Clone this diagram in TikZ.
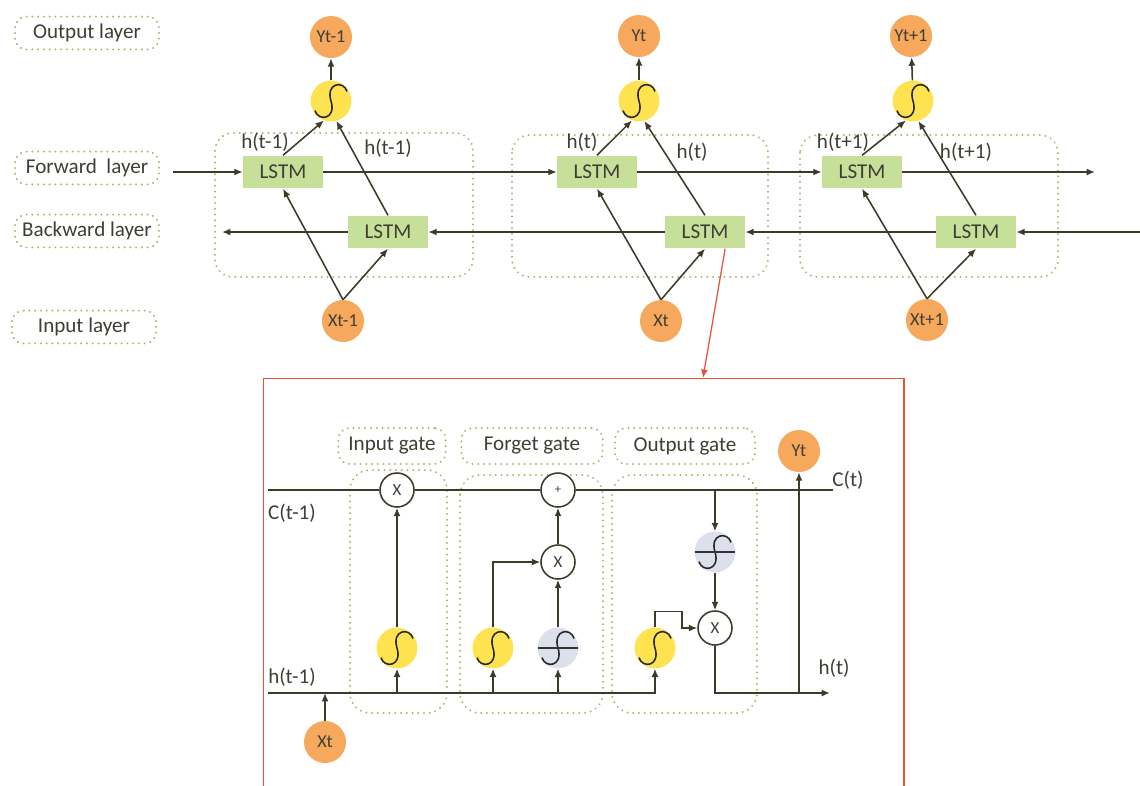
\documentclass[tikz,border=0pt]{standalone}
\usepackage{fontspec}
\setmainfont{Carlito}
\usepackage{tikz}
\usetikzlibrary{
    arrows.meta,
    calc
}

\definecolor{unitorange}{RGB}{246,168,92}
\definecolor{sigyellow}{RGB}{255,226,80}
\definecolor{lstmgreen}{RGB}{198,224,154}
\definecolor{tanhgrey}{RGB}{220,224,236}
\definecolor{dotkhaki}{RGB}{186,176,112}
\definecolor{wirecol}{RGB}{62,58,40}
\definecolor{textcol}{RGB}{64,62,52}
\definecolor{zoomred}{RGB}{230,84,56}

\newcommand{\sigmacurve}{\draw[line width=1.1pt, black!85, shift={(path picture bounding box.center)}]
    (0.4cm,0.24cm) .. controls (0.32cm,0.52cm) and (-0.14cm,0.46cm) .. (0cm,0cm)
    .. controls (0.14cm,-0.46cm) and (-0.32cm,-0.52cm) .. (-0.4cm,-0.24cm);}

\tikzset{
    wire/.style={line width=1.1pt, draw=wirecol},
    conn/.style={wire, -{Latex[length=6pt,width=5pt]}},
    dotbox/.style={draw=dotkhaki, line width=1.5pt, dash pattern=on 0.1pt off 4pt, line cap=round},
    layerlabel/.style={dotbox, rounded corners=8pt, minimum width=3.6cm, minimum height=0.82cm,
        text=textcol, font=\fontsize{15}{17}\selectfont},
    gatelabel/.style={dotbox, rounded corners=8pt, minimum height=0.9cm,
        text=textcol, font=\fontsize{15}{17}\selectfont},
    hlabel/.style={text=textcol, font=\fontsize{15}{17}\selectfont},
    lstm/.style={fill=lstmgreen, minimum width=2cm, minimum height=0.82cm,
        text=textcol, font=\fontsize{15}{17}\selectfont},
    unit/.style={circle, fill=unitorange, minimum size=1.05cm, inner sep=0pt,
        text=textcol, font=\fontsize{13}{15}\selectfont},
    sigmoid/.style={circle, fill=sigyellow, minimum size=1.02cm, inner sep=0pt,
        path picture={\sigmacurve}},
    tanhunit/.style={circle, fill=tanhgrey, minimum size=1.02cm, inner sep=0pt,
        path picture={\sigmacurve
            \draw[line width=1pt, black!80] (path picture bounding box.west) -- (path picture bounding box.east);}},
    op/.style={circle, draw=wirecol, line width=1.1pt, fill=white, minimum size=0.85cm, inner sep=0pt,
        text=textcol, font=\fontsize{12}{13}\selectfont}
}

\begin{document}
\begin{tikzpicture}[x=0.025cm, y=-0.025cm]

\useasboundingbox (0,0) rectangle (1140,785);

% Layer labels
\node[layerlabel] (outlbl) at (87,33) {Output layer};
\node[layerlabel] (fwdlbl) at (87,168) {Forward\ \ layer};
\node[layerlabel] (bwdlbl) at (87,231) {Backward layer};
\node[layerlabel] (inlbl) at (84,327) {Input layer};

% Cell frames
\draw[dotbox, rounded corners=0.45cm] (215,133) rectangle (473,277);
\draw[dotbox, rounded corners=0.45cm] (512,135) rectangle (768,277);
\draw[dotbox, rounded corners=0.45cm] (800,135) rectangle (1058,277);

% Cell t-1
\node[lstm] (f1) at (283,172) {LSTM};
\node[lstm] (b1) at (388,232) {LSTM};
\node[sigmoid] (s1) at (331,101) {};
\node[unit] (y1) at (331,37) {Yt-1};
\node[unit] (x1) at (343,321) {Xt-1};

% Cell t
\node[lstm] (f2) at (597,172) {LSTM};
\node[lstm] (b2) at (705,232) {LSTM};
\node[sigmoid] (s2) at (639,101) {};
\node[unit] (y2) at (639,36) {Yt};
\node[unit] (x2) at (661,321) {Xt};

% Cell t+1
\node[lstm] (f3) at (862,172) {LSTM};
\node[lstm] (b3) at (976,232) {LSTM};
\node[sigmoid] (s3) at (913,101) {};
\node[unit] (y3) at (911,36) {Yt+1};
\node[unit] (x3) at (927,320) {Xt+1};

% Hidden state labels
\node[hlabel] (h1a) at (265,142) {h(t-1)};
\node[hlabel] (h1b) at (388,148) {h(t-1)};
\node[hlabel] (h2a) at (582,142) {h(t)};
\node[hlabel] (h2b) at (692,152) {h(t)};
\node[hlabel] (h3a) at (843,142) {h(t+1)};
\node[hlabel] (h3b) at (966,152) {h(t+1)};

% Forward and backward chains
\coordinate (fin) at (173,172);
\coordinate (fout) at (1095,172);
\coordinate (bin) at (1142,232);
\coordinate (bout) at (222,232);
\draw[conn] (fin) -- (f1);
\draw[conn] (f1) -- (f2);
\draw[conn] (f2) -- (f3);
\draw[conn] (f3) -- (fout);
\draw[conn] (bin) -- (b3);
\draw[conn] (b3) -- (b2);
\draw[conn] (b2) -- (b1);
\draw[conn] (b1) -- (bout);

% Inputs and outputs of each cell
\foreach \c in {1,2,3} {
    \draw[conn] (x\c.north) -- (f\c.south);
    \draw[conn] (x\c.north) -- (b\c.south);
    \draw[conn] (f\c.north) -- (s\c.250);
    \draw[conn] (b\c.north) -- (s\c.285);
    \draw[conn] (s\c) -- (y\c);
}

% Zoomed cell
\node[draw=zoomred, line width=1pt, minimum width=16cm, minimum height=10.6cm,
    anchor=north west] (zoombox) at (263,378) {};
\coordinate (zoomtip) at (703,378);
\draw[zoomred, line width=0.9pt, -{Latex[length=6pt,width=5pt]}]
    ($(b2.south)!0.5!(b2.south east)$) -- (zoomtip);

% Gate labels
\node[gatelabel, minimum width=2.68cm] (igate) at (392,446) {Input gate};
\node[gatelabel, minimum width=3.53cm] (fgate) at (532,446) {Forget gate};
\node[gatelabel, minimum width=3.5cm] (ogate) at (685,446) {Output gate};

% Gate regions
\draw[dotbox, rounded corners=0.5cm] (350,470) rectangle (447,713);
\draw[dotbox, rounded corners=0.5cm] (460,475) rectangle (603,713);
\draw[dotbox, rounded corners=0.5cm] (612,475) rectangle (757,713);

% Gate units
\node[op] (ix) at (397,490) {X};
\node[sigmoid] (is) at (397,648) {};
\node[op, font=\fontsize{9}{10}\selectfont] (fplus) at (558,490) {+};
\node[op] (fx) at (558,562) {X};
\node[sigmoid] (fs) at (493,648) {};
\node[tanhunit] (ft) at (558,648) {};
\node[tanhunit] (ot) at (715,552) {};
\node[op] (ox) at (715,628) {X};
\node[sigmoid] (os) at (655,648) {};
\node[unit] (yb) at (799,451) {Yt};
\node[unit] (xb) at (325,742) {Xt};

% State labels
\node[hlabel] (cprev) at (292,513) {C(t-1)};
\node[hlabel] (hprev) at (292,677) {h(t-1)};
\node[hlabel] (cnext) at (848,480) {C(t)};
\node[hlabel] (hnext) at (834,668) {h(t)};

% Cell state line
\coordinate (cin) at (268,490);
\coordinate (cout) at (833,490);
\draw[wire] (cin) -- (ix.west);
\draw[wire] (ix.east) -- (fplus.west);
\draw[wire] (fplus.east) -- (cout);

% Hidden state line
\coordinate (hin) at (268,693);
\coordinate (hout) at (830,693);
\draw[conn] (hin) -| (os.south);
\draw[conn] (xb) -- (xb |- hin);
\draw[conn] (is.south |- hin) -- (is.south);
\draw[conn] (fs.south |- hin) -- (fs.south);
\draw[conn] (ft.south |- hin) -- (ft.south);

% Inside the gates
\draw[conn] (is) -- (ix);
\draw[conn] (fs.north) |- (fx.west);
\draw[conn] (ft) -- (fx);
\draw[conn] (fx) -- (fplus);
\draw[conn] (ot.north |- cin) -- (ot.north);
\draw[conn] (ot) -- (ox);
\draw[conn] (os.north) |- ++(27,-16) |- (ox.west);
\draw[conn] (ox.south) |- (hout);
\draw[conn] (yb.south |- hout) -- (yb.south);

\end{tikzpicture}
\end{document}
